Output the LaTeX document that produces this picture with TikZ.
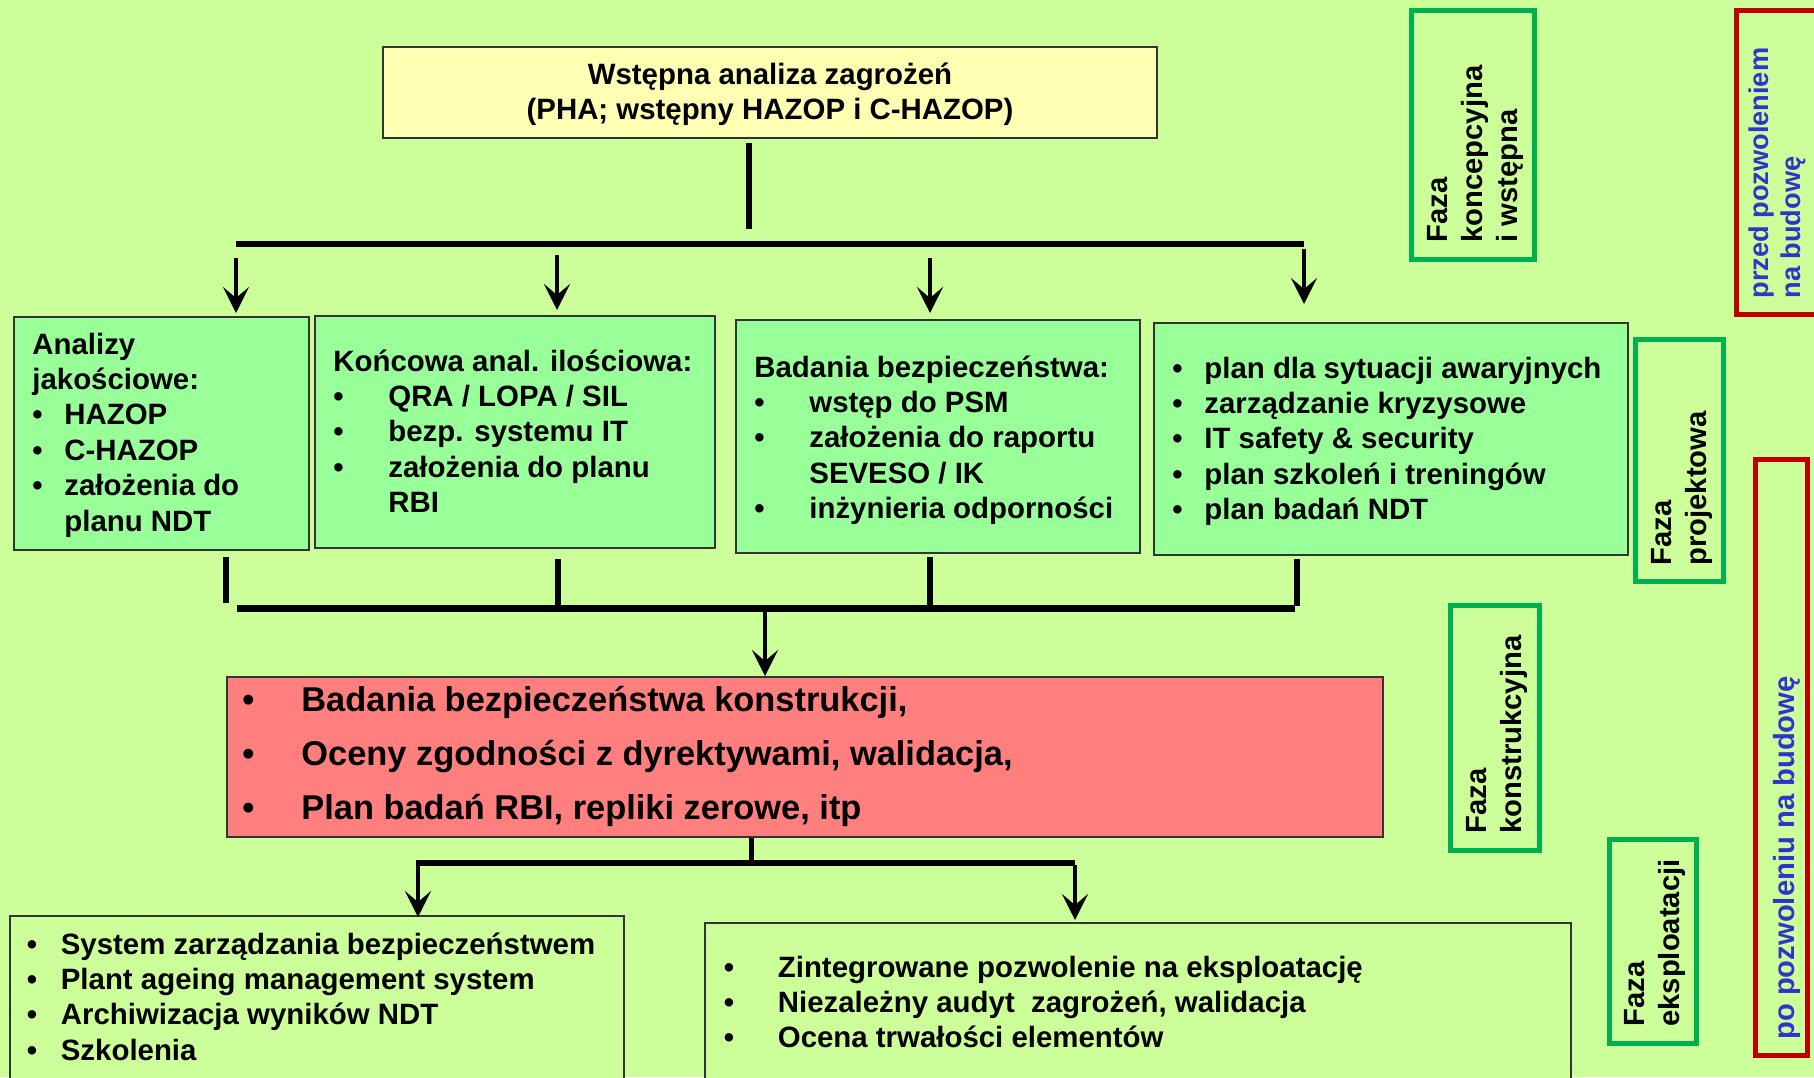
\documentclass[tikz,border=0pt]{standalone}
\usepackage{fontspec}
\setmainfont{Liberation Sans}
\usetikzlibrary{arrows.meta}
\definecolor{bgc}{HTML}{CCFF99}
\definecolor{gboxc}{HTML}{99FF99}
\definecolor{yelc}{HTML}{FFFFB3}
\definecolor{redc}{HTML}{FF7F7F}
\definecolor{phg}{HTML}{00B050}
\definecolor{phr}{HTML}{C00000}
\definecolor{bluec}{HTML}{3333CC}
\definecolor{bordc}{HTML}{333333}
\newcommand\mfont{\fontsize{14.7}{17.7}\selectfont\bfseries}
\newcommand\rfont{\fontsize{17.2}{27}\selectfont\bfseries}
\newcommand\phfont{\fontsize{14.6}{17.5}\selectfont\bfseries}
\newcommand\phbfont{\fontsize{13.6}{16}\selectfont\bfseries}
\begin{document}
\begin{tikzpicture}[x=0.5pt,y=-0.5pt,
  boxst/.style={draw=bordc, line width=1pt, inner sep=0pt, rectangle},
  phase/.style={draw=phg, line width=2.5pt, inner sep=0pt, rectangle},
  perm/.style={draw=phr, line width=2.5pt, inner sep=0pt, rectangle},
  txt/.style={anchor=base west, inner sep=0pt, font=\mfont},
  rtxt/.style={anchor=base west, inner sep=0pt, rotate=90, font=\phfont},
  hbar/.style={line width=3pt},
  stemline/.style={line width=3pt},
  arr/.style={line width=2.2pt, -{Stealth[length=13pt,width=13pt,inset=5.5pt]}},
]
\fill[bgc] (0,0) rectangle (1814,1077);
\useasboundingbox (0,0) rectangle (1814,1077);

% boxes
\node[boxst, fill=yelc, minimum width=387pt, minimum height=45.5pt] (top) at (770,92.5) {};
\node[boxst, fill=gboxc, minimum width=147.5pt, minimum height=116.5pt] (g1) at (161.5,433.5) {};
\node[boxst, fill=gboxc, minimum width=200pt, minimum height=116pt] (g2) at (515,432) {};
\node[boxst, fill=gboxc, minimum width=202pt, minimum height=116.5pt] (g3) at (938,436.5) {};
\node[boxst, fill=gboxc, minimum width=237pt, minimum height=116pt] (g4) at (1391,439) {};
\node[boxst, fill=redc, minimum width=578pt, minimum height=80pt] (rb) at (805,757) {};
\node[boxst, fill=bgc, minimum width=307pt, minimum height=87pt] (bl) at (317,1003) {};
\node[boxst, fill=bgc, minimum width=433pt, minimum height=83.5pt] (br) at (1138,1006.5) {};

% phase frames
\node[phase, minimum width=61.5pt, minimum height=124.5pt] (p1) at (1473,135) {};
\node[perm, minimum width=46.75pt, minimum height=152pt] (r1) at (1783.25,162.5) {};
\node[phase, minimum width=44pt, minimum height=121pt] (p2) at (1679.5,460.5) {};
\node[perm, minimum width=26pt, minimum height=298pt] (r2) at (1781.5,757.5) {};
\node[phase, minimum width=44.5pt, minimum height=122.5pt] (p3) at (1495,728) {};
\node[phase, minimum width=43.5pt, minimum height=102pt] (p4) at (1653,941.5) {};

% texts
\node[anchor=base, inner sep=0pt, font=\mfont] (ttop) at (770,84)
  {\begin{tabular}[t]{@{}c@{}}Wstępna analiza zagrożeń\\(PHA; wstępny HAZOP i C-HAZOP)\end{tabular}};
\node[txt] (t1) at (32,354) {\begin{tabular}[t]{@{}p{16pt}@{}l@{}}
\multicolumn{2}{@{}l@{}}{Analizy}\\
\multicolumn{2}{@{}l@{}}{jakościowe:}\\
•&HAZOP\\
•&C-HAZOP\\
•&założenia do\\
&planu NDT\end{tabular}};
\node[txt] (t2) at (333,371) {\begin{tabular}[t]{@{}p{27.5pt}@{}l@{}}
\multicolumn{2}{@{}l@{}}{Końcowa anal. ilościowa:}\\
•&QRA / LOPA / SIL\\
•&bezp. systemu IT\\
•&założenia do planu\\
&RBI\end{tabular}};
\node[txt] (t3) at (754,377) {\begin{tabular}[t]{@{}p{27.5pt}@{}l@{}}
\multicolumn{2}{@{}l@{}}{Badania bezpieczeństwa:}\\
•&wstęp do PSM\\
•&założenia do raportu\\
&SEVESO / IK\\
•&inżynieria odporności\end{tabular}};
\node[txt] (t4) at (1172,378) {\begin{tabular}[t]{@{}p{16pt}@{}l@{}}
•&plan dla sytuacji awaryjnych\\
•&zarządzanie kryzysowe\\
•&IT safety \& security\\
•&plan szkoleń i treningów\\
•&plan badań NDT\end{tabular}};
\node[txt, font=\rfont] (t5) at (242,711) {\begin{tabular}[t]{@{}p{29.5pt}@{}l@{}}
•&Badania bezpieczeństwa konstrukcji,\\
•&Oceny zgodności z dyrektywami, walidacja,\\
•&Plan badań RBI, repliki zerowe, itp\end{tabular}};
\node[txt] (t6) at (26.5,954) {\begin{tabular}[t]{@{}p{17pt}@{}l@{}}
•&System zarządzania bezpieczeństwem\\
•&Plant ageing management system\\
•&Archiwizacja wyników NDT\\
•&Szkolenia\end{tabular}};
\node[txt] (t7) at (723.5,977) {\begin{tabular}[t]{@{}p{27pt}@{}l@{}}
•&Zintegrowane pozwolenie na eksploatację\\
•&Niezależny audyt\ \ zagrożeń, walidacja\\
•&Ocena trwałości elementów\end{tabular}};

% phase texts
\node[rtxt] (f1) at (1447,243) {\begin{tabular}[t]{@{}l@{}}Faza\\koncepcyjna\\i wstępna\end{tabular}};
\node[rtxt, text=bluec, font=\phbfont] (f2) at (1768,299) {\begin{tabular}[t]{@{}l@{}}przed pozwoleniem\\na budowę\end{tabular}};
\node[rtxt] (f3) at (1671,566) {\begin{tabular}[t]{@{}l@{}}Faza\\projektowa\end{tabular}};
\node[rtxt] (f4) at (1486,834) {\begin{tabular}[t]{@{}l@{}}Faza\\konstrukcyjna\end{tabular}};
\node[rtxt] (f5) at (1644,1027) {\begin{tabular}[t]{@{}l@{}}Faza\\eksploatacji\end{tabular}};
\node[rtxt, text=bluec] (f6) at (1794,1040) {po pozwoleniu na budowę};

% connectors top
\coordinate (s0a) at (749,143);
\coordinate (s0b) at (749,229);
\coordinate (b1l) at (236,244);
\coordinate (b1r) at (1304,244);
\draw[stemline] (s0a) -- (s0b);
\draw[hbar] (b1l) -- (b1r);
\coordinate (a1s) at (236,258); \coordinate (a1e) at (236,313);
\coordinate (a2s) at (557,255); \coordinate (a2e) at (557,310);
\coordinate (a3s) at (930,258); \coordinate (a3e) at (930,313);
\coordinate (a4s) at (1304,249); \coordinate (a4e) at (1304,304);
\draw[arr] (a1s) -- (a1e);
\draw[arr] (a2s) -- (a2e);
\draw[arr] (a3s) -- (a3e);
\draw[arr] (a4s) -- (a4e);

% connectors middle
\coordinate (u1a) at (226,557); \coordinate (u1b) at (226,603);
\coordinate (u2a) at (558,559); \coordinate (u2b) at (558,605);
\coordinate (u3a) at (930,557); \coordinate (u3b) at (930,605);
\coordinate (u4a) at (1297,559); \coordinate (u4b) at (1297,606);
\draw[stemline] (u1a) -- (u1b);
\draw[stemline] (u2a) -- (u2b);
\draw[stemline] (u3a) -- (u3b);
\draw[stemline] (u4a) -- (u4b);
\coordinate (b2l) at (237,608.5);
\coordinate (b2r) at (1295,608.5);
\draw[line width=3.5pt] (b2l) -- (b2r);
\coordinate (m1) at (765,612);
\draw[arr] (m1) -- (m1 |- rb.north);

% connectors bottom
\coordinate (s3a) at (751,838);
\coordinate (s3b) at (751,861);
\draw[line width=2.5pt] (s3a) -- (s3b);
\coordinate (b3l) at (416,863);
\coordinate (b3r) at (1075,863);
\draw[hbar] (b3l) -- (b3r);
\coordinate (d1s) at (418,865); \coordinate (d1e) at (418,917);
\coordinate (d2s) at (1075,865); \coordinate (d2e) at (1075,920);
\draw[arr] (d1s) -- (d1e);
\draw[arr] (d2s) -- (d2e);
\end{tikzpicture}
\end{document}
